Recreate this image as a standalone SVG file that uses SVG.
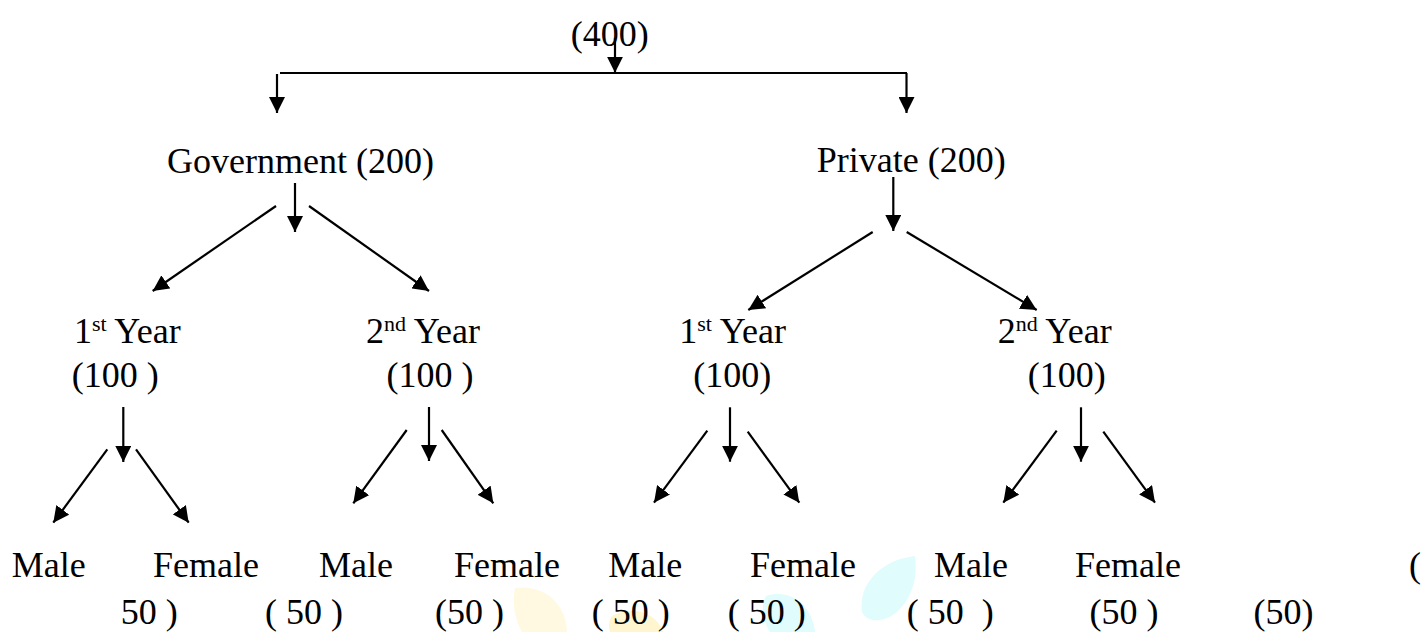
<svg xmlns="http://www.w3.org/2000/svg" width="1422" height="632" viewBox="0 0 1422 632">
<style>
  text { font-family: "Liberation Serif", "Times New Roman", serif; font-size: 36px; fill: #000; white-space: pre; }
  .sup { font-size: 22px; }
  .c { stroke: #000; stroke-width: 2.2; fill: none; }
  .a { stroke: #000; stroke-width: 2.2; fill: none; marker-end: url(#ah); }
</style>
<defs>
  <marker id="ah" markerUnits="userSpaceOnUse" markerWidth="16" markerHeight="16" refX="16" refY="8" orient="auto" viewBox="0 0 16 16">
    <path d="M0,0 L16,8 L0,16 z" fill="#000"/>
  </marker>
</defs>
<rect width="1422" height="632" fill="#fff"/>
<g id="watermark" opacity="0.8">
  <path d="M515,588 C540,584 566,600 567,632 L522,632 C514,618 512,600 515,588 z" fill="#FFF8DC"/>
  <path d="M612,616 C630,606 655,610 663,632 L610,632 C608,626 609,620 612,616 z" fill="#FFF3C4"/>
  <path d="M766,596 C790,588 812,605 815,632 L770,632 C762,620 761,605 766,596 z" fill="#D9FCFC"/>
  <path d="M915,556 C880,560 858,585 862,612 C868,624 885,622 897,612 C912,598 918,578 915,556 z" fill="#D9FCFC"/>
</g>
<g id="connectors">
  <line class="a" x1="615" y1="38" x2="615" y2="72.7"/>
  <line class="c" x1="280" y1="73" x2="907" y2="73"/>
  <line class="a" x1="277" y1="74" x2="277" y2="113"/>
  <line class="a" x1="906.5" y1="73" x2="906.5" y2="113"/>

  <line class="a" x1="295" y1="183" x2="295" y2="232"/>
  <line class="a" x1="276" y1="206" x2="152.7" y2="291"/>
  <line class="a" x1="309" y1="206" x2="429" y2="291"/>

  <line class="a" x1="893.3" y1="177" x2="893.3" y2="231"/>
  <line class="a" x1="872.7" y1="232" x2="748.3" y2="310"/>
  <line class="a" x1="906.7" y1="232" x2="1036.7" y2="310"/>

  <line class="a" x1="123.3" y1="407" x2="123.3" y2="462"/>
  <line class="a" x1="107.3" y1="449.3" x2="53.3" y2="522.7"/>
  <line class="a" x1="136" y1="449.3" x2="188.7" y2="522.7"/>

  <line class="a" x1="429" y1="407" x2="429" y2="461"/>
  <line class="a" x1="406.7" y1="430" x2="353.3" y2="503.3"/>
  <line class="a" x1="441.7" y1="430" x2="493.3" y2="503.3"/>

  <line class="a" x1="730" y1="407.3" x2="730" y2="461.7"/>
  <line class="a" x1="707.3" y1="430.7" x2="654" y2="502.7"/>
  <line class="a" x1="747.7" y1="431.7" x2="799.3" y2="502.7"/>

  <line class="a" x1="1081" y1="407.3" x2="1081" y2="461.7"/>
  <line class="a" x1="1056.7" y1="430.7" x2="1003.3" y2="502.7"/>
  <line class="a" x1="1103.3" y1="431.7" x2="1155" y2="502.7"/>
</g>
<g id="root"><text x="570.7" y="46">(400)</text></g>
<g id="government"><text x="167" y="173">Government (200)</text></g>
<g id="private"><text x="816.7" y="172">Private (200)</text></g>
<g id="gov-year1">
  <text x="74" y="343">1<tspan class="sup" dy="-12">st</tspan><tspan dy="12"> Year</tspan></text>
  <text x="71.7" y="387">(100 )</text>
</g>
<g id="gov-year2">
  <text x="366" y="343">2<tspan class="sup" dy="-12">nd</tspan><tspan dy="12"> Year</tspan></text>
  <text x="386.5" y="387">(100 )</text>
</g>
<g id="pri-year1">
  <text x="679.3" y="343">1<tspan class="sup" dy="-12">st</tspan><tspan dy="12"> Year</tspan></text>
  <text x="693.3" y="387">(100)</text>
</g>
<g id="pri-year2">
  <text x="997.7" y="343">2<tspan class="sup" dy="-12">nd</tspan><tspan dy="12"> Year</tspan></text>
  <text x="1027.7" y="387">(100)</text>
</g>
<g id="leaves-row1">
  <text x="11.7" y="577">Male</text>
  <text x="153" y="577">Female</text>
  <text x="319" y="577">Male</text>
  <text x="454" y="577">Female</text>
  <text x="608.3" y="577">Male</text>
  <text x="750" y="577">Female</text>
  <text x="934" y="577">Male</text>
  <text x="1075" y="577">Female</text>
  <text x="1409" y="577">(</text>
</g>
<g id="leaves-row2">
  <text x="120.7" y="624">50 )</text>
  <text x="265" y="624">( 50 )</text>
  <text x="435" y="624">(50 )</text>
  <text x="591.7" y="624">( 50 )</text>
  <text x="727.7" y="624">( 50 )</text>
  <text x="906.7" y="624">( 50  )</text>
  <text x="1089.6" y="624">(50 )</text>
  <text x="1253.6" y="624">(50)</text>
</g>
</svg>
